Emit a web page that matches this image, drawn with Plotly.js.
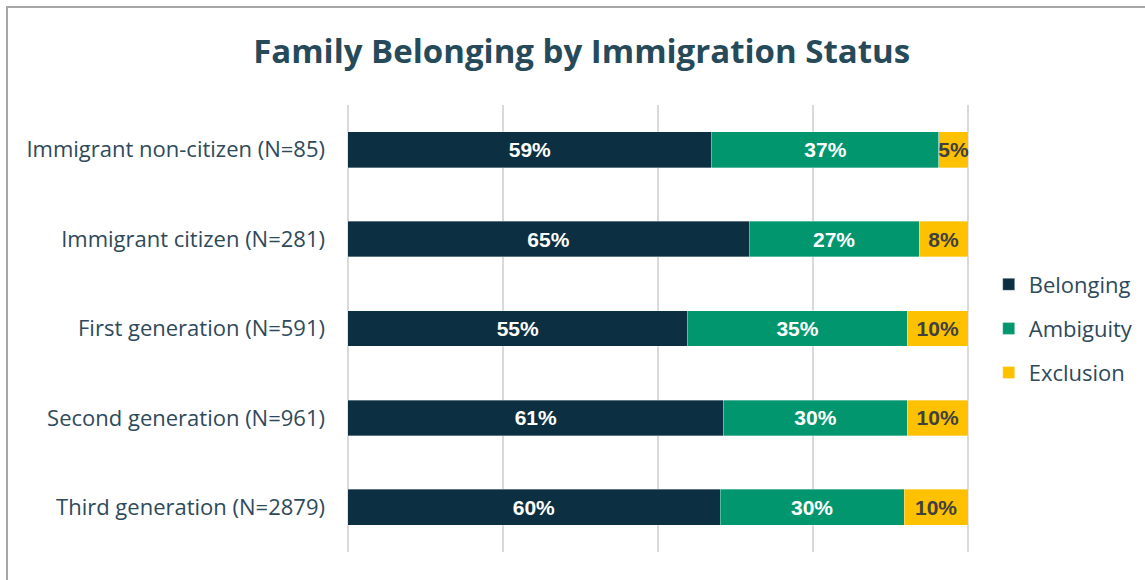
<!DOCTYPE html>
<html>
<head>
<meta charset="utf-8">
<script src="https://cdn.plot.ly/plotly-3.0.1.min.js"></script>
<style>
  html, body { margin: 0; padding: 0; background: #ffffff; }
  #wrap { position: relative; width: 1145px; height: 580px; overflow: hidden; }
  #chart { width: 1145px; height: 580px; }
  #frame { position: absolute; left: 6px; top: 6px; width: 1200px; height: 700px;
           border-left: 2px solid #a6a6a6; border-top: 2px solid #a6a6a6; pointer-events: none; }
</style>
</head>
<body>
<div id="wrap">
  <div id="chart"></div>
  <div id="frame"></div>
</div>
<script>
const categories = [
  "Immigrant non-citizen (N=85)",
  "Immigrant citizen (N=281)",
  "First generation (N=591)",
  "Second generation (N=961)",
  "Third generation (N=2879)"
];
const belonging = [58.7, 64.7, 54.8, 60.6, 60.0];
const ambiguity = [36.6, 27.4, 35.4, 29.6, 29.7];
const exclusion = [4.7, 7.9, 9.8, 9.8, 10.3];
const seriesNames = ["Belonging", "Ambiguity", "Exclusion"];
const seriesColors = ["#0d2f42", "#02966f", "#fdc100"];
const labelColors = ["#ffffff", "#ffffff", "#404040"];
const seriesValues = [belonging, ambiguity, exclusion];

const labelFont = { family: "Liberation Sans, Arial, sans-serif", size: 21, weight: "bold" };

const traces = seriesValues.map((vals, i) => ({
  type: "bar",
  orientation: "h",
  name: seriesNames[i],
  legendgroup: seriesNames[i],
  y: categories,
  x: vals,
  width: 0.4,
  marker: { color: seriesColors[i], line: { width: 0.6, color: "rgba(255,255,255,0.55)" } },
  texttemplate: "%{x:.0f}%",
  textposition: "inside",
  insidetextanchor: "middle",
  constraintext: "none",
  textangle: 0,
  insidetextfont: Object.assign({}, labelFont, { color: labelColors[i] }),
  cliponaxis: false,
  hoverinfo: "skip"
}));

const layout = {
  width: 1145,
  height: 580,
  paper_bgcolor: "#ffffff",
  plot_bgcolor: "#ffffff",
  barmode: "stack",
  uniformtext: { mode: "show", minsize: 21 },
  margin: { l: 346, r: 175, t: 105, b: 28, autoexpand: false },
  title: {
    text: "<b>Family Belonging by Immigration Status</b>",
    font: { family: "Open Sans, sans-serif", size: 33, color: "#264a5a" },
    x: 0.508, xanchor: "center",
    y: 0.912, yanchor: "middle"
  },
  xaxis: {
    range: [-0.3, 100.3],
    dtick: 25,
    tick0: 0,
    showticklabels: false,
    showgrid: true,
    gridcolor: "#d9d9d9",
    gridwidth: 1.5,
    zeroline: false,
    showline: false,
    fixedrange: true
  },
  yaxis: {
    autorange: "reversed",
    type: "category",
    showgrid: false,
    zeroline: false,
    showline: false,
    ticks: "",
    ticklabelstandoff: 20,
    tickfont: { family: "Open Sans, sans-serif", size: 22, color: "#2e4a5a" },
    fixedrange: true
  },
  legend: {
    x: 1.030, xanchor: "left",
    y: 0.5, yanchor: "middle",
    font: { family: "Open Sans, sans-serif", size: 22, color: "#2e4a5a" },
    tracegroupgap: 12.5,
    traceorder: "grouped",
    bgcolor: "rgba(0,0,0,0)"
  },
  showlegend: true
};

Plotly.newPlot("chart", traces, layout, { displayModeBar: false, staticPlot: true });
</script>
</body>
</html>
